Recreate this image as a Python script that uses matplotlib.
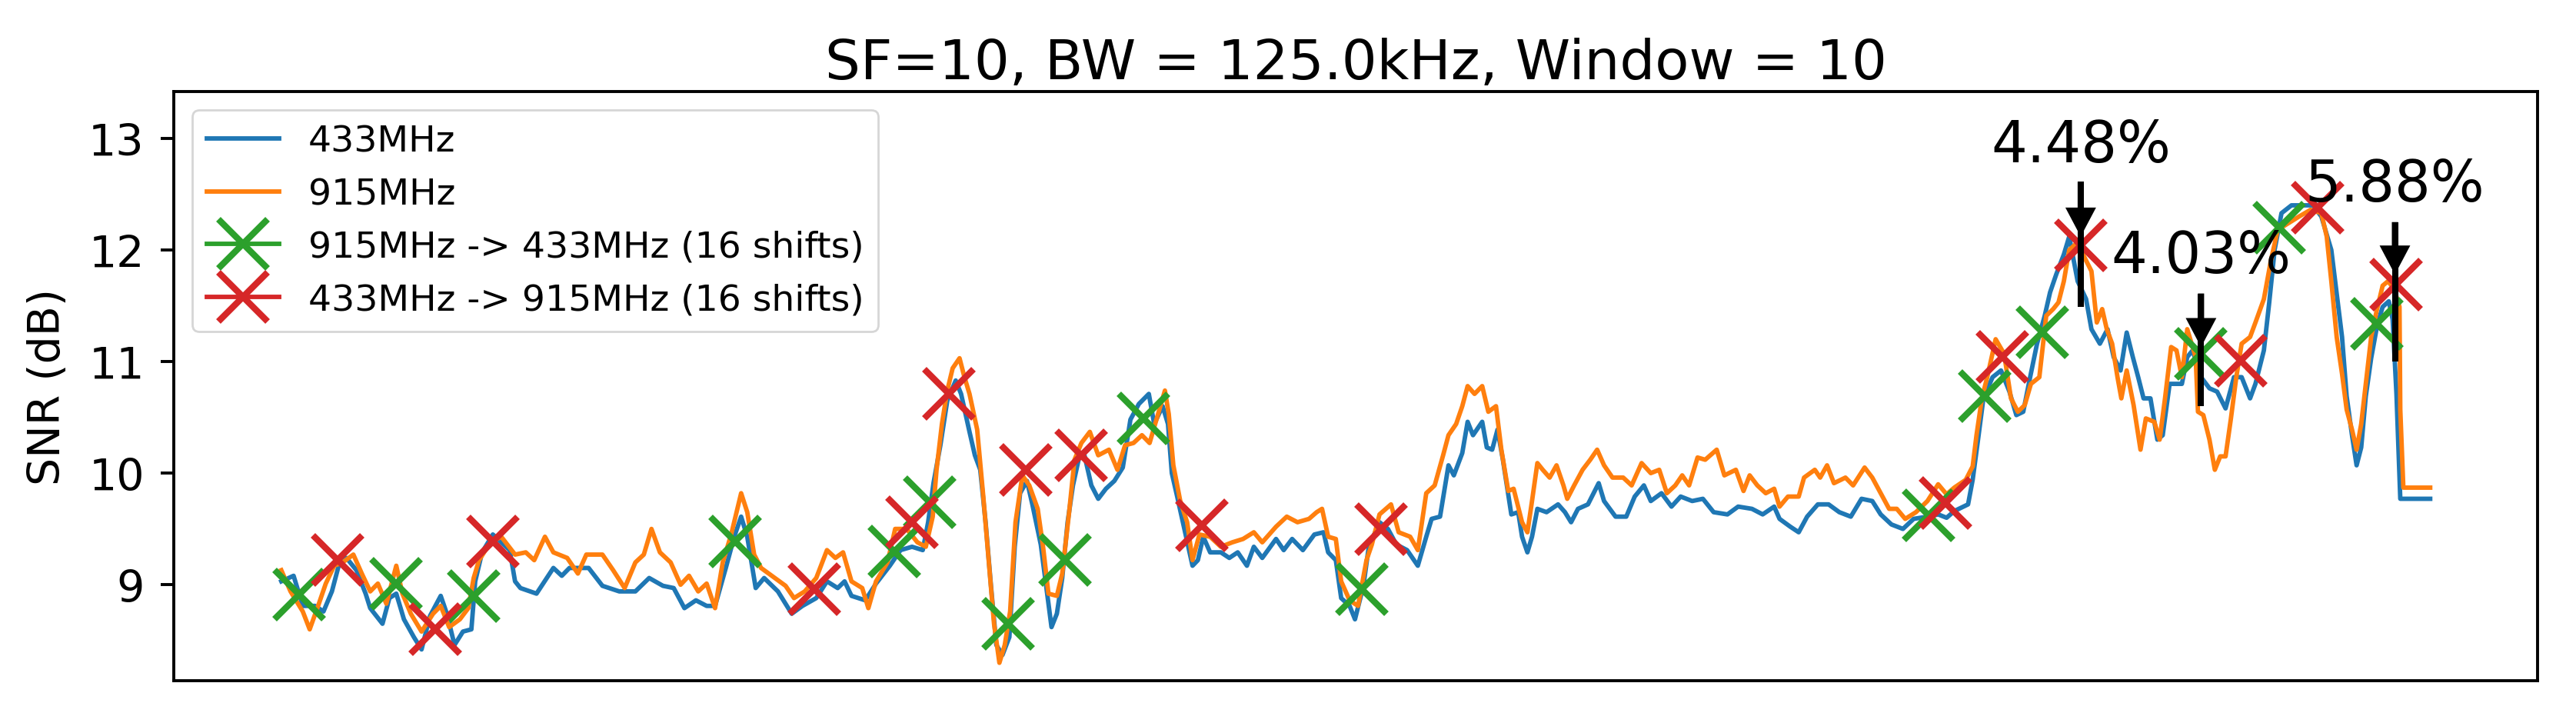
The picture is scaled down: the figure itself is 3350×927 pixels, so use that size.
import numpy as np
import matplotlib
matplotlib.use('Agg')
import matplotlib.pyplot as plt
from matplotlib.lines import Line2D

# SNR traces (sample index, dB)
snr433_x = [0, 16, 28, 44, 55, 66, 76, 85, 98, 110, 116, 132, 141, 150, 160, 173, 183, 194, 208, 216,
            226, 237, 248, 253, 262, 276, 298, 305, 312, 333, 355, 366, 376, 401, 419, 441, 462, 480, 498, 512,
            526, 541, 555, 566, 580, 591, 600, 608, 619, 630, 648, 666, 680, 698, 712, 726, 735, 744, 762, 776,
            794, 808, 823, 837, 844, 851, 860, 869, 880, 887, 898, 905, 912, 919, 926, 933, 941, 950, 957, 964,
            973, 980, 991, 998, 1005, 1012, 1019, 1026, 1033, 1041, 1048, 1057, 1066, 1076, 1087, 1098, 1108, 1119, 1132, 1139,
            1150, 1157, 1162, 1169, 1180, 1189, 1196, 1203, 1212, 1226, 1237, 1248, 1260, 1269, 1280, 1298, 1308, 1319, 1333, 1348,
            1360, 1366, 1376, 1383, 1394, 1401, 1412, 1419, 1433, 1444, 1455, 1469, 1483, 1494, 1501, 1512, 1523, 1530, 1541, 1548,
            1555, 1567, 1573, 1580, 1587, 1594, 1605, 1614, 1619, 1626, 1632, 1639, 1651, 1666, 1675, 1683, 1692, 1705, 1719, 1726,
            1741, 1755, 1766, 1778, 1787, 1801, 1814, 1826, 1841, 1855, 1869, 1887, 1901, 1919, 1933, 1948, 1955, 1969, 1980, 1991,
            2005, 2019, 2033, 2048, 2062, 2076, 2087, 2101, 2116, 2130, 2148, 2162, 2173, 2183, 2201, 2207, 2214, 2221, 2233, 2244,
            2255, 2264, 2273, 2282, 2291, 2301, 2308, 2316, 2326, 2333, 2339, 2344, 2355, 2362, 2373, 2383, 2391, 2400, 2408, 2416,
            2423, 2430, 2439, 2448, 2455, 2464, 2473, 2480, 2487, 2494, 2505, 2516, 2526, 2537, 2548, 2558, 2569, 2576, 2587, 2594,
            2601, 2610, 2623, 2637, 2651, 2662, 2675, 2682, 2689, 2695, 2702, 2708, 2714, 2720, 2727, 2735, 2742, 2750, 2755, 2760,
            2765, 2804]
snr433_y = [9.03, 9.08, 8.81, 8.81, 8.76, 8.94, 9.20, 9.24, 9.13, 8.92, 8.79, 8.65, 8.88, 8.92, 8.69, 8.53, 8.42, 8.72, 8.90, 8.74,
            8.46, 8.58, 8.60, 9.03, 9.29, 9.45, 9.31, 9.03, 8.97, 8.92, 9.15, 9.08, 9.15, 9.15, 8.99, 8.94, 8.94, 9.06, 8.99, 8.97,
            8.79, 8.86, 8.81, 8.81, 9.15, 9.43, 9.61, 9.43, 8.97, 9.06, 8.94, 8.74, 8.81, 8.88, 9.03, 8.97, 9.03, 8.90, 8.86, 9.01,
            9.17, 9.31, 9.34, 9.31, 9.56, 9.91, 10.25, 10.65, 10.83, 10.71, 10.37, 10.16, 10.03, 9.56, 8.99, 8.46, 8.37, 8.53, 9.34, 9.82,
            9.93, 9.72, 9.36, 8.99, 8.62, 8.74, 9.06, 9.56, 9.89, 10.14, 10.16, 9.89, 9.77, 9.86, 9.93, 10.05, 10.48, 10.62, 10.71, 10.44,
            10.60, 10.44, 10.00, 9.79, 9.45, 9.17, 9.22, 9.43, 9.29, 9.29, 9.24, 9.29, 9.17, 9.34, 9.24, 9.41, 9.31, 9.41, 9.31, 9.45,
            9.47, 9.29, 9.22, 8.88, 8.81, 8.69, 8.99, 9.34, 9.56, 9.50, 9.36, 9.31, 9.17, 9.43, 9.59, 9.61, 10.07, 9.98, 10.18, 10.46,
            10.34, 10.46, 10.23, 10.21, 10.39, 10.12, 9.63, 9.65, 9.43, 9.29, 9.43, 9.68, 9.65, 9.72, 9.65, 9.56, 9.68, 9.72, 9.91, 9.75,
            9.61, 9.61, 9.79, 9.89, 9.75, 9.82, 9.70, 9.79, 9.75, 9.77, 9.65, 9.63, 9.70, 9.68, 9.63, 9.70, 9.59, 9.52, 9.47, 9.61,
            9.72, 9.72, 9.65, 9.61, 9.77, 9.75, 9.63, 9.54, 9.50, 9.59, 9.61, 9.63, 9.60, 9.66, 9.72, 9.94, 10.30, 10.67, 10.86, 10.92,
            10.73, 10.52, 10.55, 10.86, 11.16, 11.41, 11.62, 11.78, 11.96, 12.12, 11.90, 11.72, 11.56, 11.29, 11.16, 11.29, 11.04, 10.92, 11.26, 11.04,
            10.86, 10.67, 10.67, 10.30, 10.34, 10.80, 10.80, 10.80, 11.04, 11.10, 10.86, 10.76, 10.73, 10.58, 10.86, 10.86, 10.67, 10.80, 11.10, 11.53,
            12.00, 12.33, 12.40, 12.40, 12.40, 12.30, 12.00, 11.61, 11.22, 10.69, 10.34, 10.07, 10.23, 10.69, 11.03, 11.33, 11.49, 11.54, 11.38, 10.71,
            9.77, 9.77]

snr915_x = [0, 12, 28, 37, 48, 58, 69, 80, 94, 105, 116, 126, 137, 150, 158, 169, 183, 198, 208, 219,
            233, 244, 251, 258, 273, 287, 305, 319, 330, 344, 355, 373, 387, 398, 419, 433, 448, 462, 473, 483,
            494, 508, 521, 532, 544, 555, 566, 576, 587, 600, 608, 617, 626, 644, 658, 669, 683, 698, 712, 723,
            733, 744, 758, 766, 776, 791, 801, 816, 830, 841, 850, 855, 862, 869, 876, 885, 891, 898, 908, 916,
            923, 930, 937, 944, 951, 958, 967, 976, 987, 994, 1001, 1012, 1019, 1028, 1035, 1044, 1055, 1066, 1080, 1091,
            1101, 1112, 1123, 1133, 1144, 1153, 1158, 1164, 1173, 1182, 1189, 1198, 1212, 1226, 1241, 1255, 1269, 1280, 1298, 1312,
            1326, 1341, 1351, 1358, 1366, 1376, 1383, 1394, 1405, 1416, 1423, 1433, 1448, 1458, 1473, 1483, 1494, 1505, 1516, 1523,
            1533, 1541, 1548, 1557, 1567, 1575, 1585, 1592, 1601, 1608, 1619, 1626, 1632, 1639, 1646, 1655, 1664, 1673, 1678, 1687,
            1698, 1708, 1717, 1726, 1737, 1751, 1762, 1775, 1787, 1798, 1808, 1819, 1828, 1837, 1848, 1858, 1873, 1883, 1898, 1908,
            1916, 1926, 1937, 1948, 1955, 1966, 1980, 1987, 2001, 2008, 2017, 2026, 2041, 2051, 2066, 2076, 2087, 2098, 2108, 2119,
            2133, 2148, 2162, 2173, 2183, 2198, 2207, 2212, 2219, 2226, 2237, 2248, 2257, 2266, 2275, 2283, 2294, 2303, 2312, 2319,
            2326, 2333, 2341, 2351, 2362, 2369, 2376, 2382, 2389, 2396, 2401, 2408, 2417, 2426, 2433, 2444, 2451, 2458, 2466, 2473,
            2480, 2487, 2498, 2501, 2508, 2516, 2523, 2530, 2537, 2544, 2551, 2558, 2569, 2576, 2587, 2596, 2605, 2619, 2633, 2648,
            2662, 2669, 2675, 2682, 2689, 2695, 2702, 2708, 2714, 2720, 2727, 2734, 2742, 2749, 2757, 2764, 2765, 2769, 2804]
snr915_y = [9.13, 8.94, 8.76, 8.60, 8.81, 9.01, 9.17, 9.20, 9.27, 9.10, 8.94, 9.01, 8.83, 9.17, 8.92, 8.74, 8.58, 8.74, 8.81, 8.62,
            8.69, 8.79, 9.06, 9.22, 9.38, 9.43, 9.27, 9.29, 9.22, 9.43, 9.29, 9.24, 9.10, 9.27, 9.27, 9.13, 8.97, 9.20, 9.27, 9.50,
            9.29, 9.20, 9.00, 9.08, 8.94, 9.01, 8.79, 9.20, 9.45, 9.82, 9.65, 9.27, 9.15, 9.06, 8.99, 8.88, 8.94, 9.06, 9.31, 9.24,
            9.29, 9.03, 8.97, 8.79, 9.03, 9.20, 9.50, 9.50, 9.38, 9.34, 9.61, 10.03, 10.44, 10.74, 10.94, 11.03, 10.87, 10.71, 10.39, 9.79,
            9.22, 8.65, 8.30, 8.46, 8.76, 9.56, 9.98, 9.89, 9.68, 9.34, 8.92, 8.90, 9.10, 9.65, 10.12, 10.27, 10.37, 10.16, 10.21, 10.03,
            10.25, 10.27, 10.34, 10.27, 10.53, 10.74, 10.53, 10.07, 9.75, 9.56, 9.22, 9.45, 9.43, 9.34, 9.38, 9.41, 9.47, 9.38, 9.52, 9.61,
            9.56, 9.59, 9.65, 9.68, 9.43, 9.41, 9.03, 8.86, 8.81, 9.22, 9.36, 9.63, 9.72, 9.47, 9.43, 9.31, 9.82, 9.89, 10.16, 10.34,
            10.44, 10.60, 10.78, 10.71, 10.78, 10.55, 10.60, 10.21, 9.84, 9.86, 9.56, 9.47, 9.75, 10.09, 10.03, 9.96, 10.07, 9.89, 9.77, 9.89,
            10.03, 10.12, 10.21, 10.07, 9.96, 9.96, 9.89, 10.09, 10.00, 10.03, 9.82, 9.89, 9.98, 9.89, 10.14, 10.12, 10.21, 9.98, 10.03, 9.84,
            9.98, 9.89, 9.82, 9.86, 9.70, 9.79, 9.79, 9.96, 10.03, 9.96, 10.07, 9.91, 9.96, 9.89, 10.05, 9.96, 9.82, 9.68, 9.68, 9.59,
            9.65, 9.75, 9.90, 9.81, 9.87, 9.94, 10.06, 10.34, 10.67, 10.86, 11.20, 11.07, 10.67, 10.55, 10.61, 10.80, 10.86, 11.41, 11.47, 11.53,
            11.72, 12.00, 12.05, 11.96, 11.81, 11.35, 11.47, 11.29, 11.16, 10.86, 10.67, 10.92, 10.61, 10.21, 10.49, 10.46, 10.30, 10.67, 11.13, 11.10,
            10.86, 11.29, 11.04, 10.55, 10.52, 10.30, 10.03, 10.15, 10.15, 10.49, 10.86, 11.16, 11.22, 11.35, 11.56, 11.90, 12.18, 12.24, 12.30, 12.36,
            12.33, 12.12, 11.72, 11.22, 10.89, 10.57, 10.39, 10.21, 10.44, 10.80, 11.22, 11.45, 11.68, 11.72, 11.65, 11.49, 10.57, 9.87, 9.87]

# shift points
shift_915_433_x = [23, 150, 251, 592, 800, 846, 948, 1023, 1125, 1410, 2149, 2223, 2298, 2505, 2607, 2734]
shift_915_433_y = [8.91, 9.01, 8.90, 9.39, 9.30, 9.74, 8.65, 9.22, 10.49, 8.96, 9.62, 10.69, 11.26, 11.07, 12.20, 11.34]
shift_433_915_x = [73, 201, 276, 696, 823, 871, 971, 1044, 1201, 1435, 2172, 2246, 2348, 2557, 2657, 2759]
shift_433_915_y = [9.22, 8.60, 9.39, 8.96, 9.56, 10.71, 10.03, 10.16, 9.53, 9.50, 9.73, 11.04, 12.04, 11.01, 12.38, 11.69]

# annotated differences
ann_labels = ['4.48%', '4.03%', '5.88%']
ann_x = [2348, 2505, 2758]
ann_top = [12.61, 11.61, 12.25]
ann_tip = [12.12, 11.13, 11.78]
ann_bottom = [11.49, 10.60, 11.00]
ann_text_y = [12.79, 11.80, 12.44]

fig = plt.figure(figsize=(16.75, 4.64), dpi=200)
ax = fig.add_axes([0.0675, 0.0453, 0.9176, 0.8254])

ax.plot(snr433_x, snr433_y, color='C0', lw=2.1, label='433MHz')
ax.plot(snr915_x, snr915_y, color='C1', lw=2.1, label='915MHz')
ax.plot(shift_915_433_x, shift_915_433_y, ls='none', marker='x', ms=23, mew=3, color='C2')
ax.plot(shift_433_915_x, shift_433_915_y, ls='none', marker='x', ms=23, mew=3, color='C3')

for lab, x, top, tip, bot, ty in zip(ann_labels, ann_x, ann_top, ann_tip, ann_bottom, ann_text_y):
    ax.vlines(x, bot, top, color='k', lw=2.9, zorder=5)
    ax.arrow(x, top, 0, tip - top, width=8, head_width=40, head_length=0.26,
             length_includes_head=True, fc='k', ec='none', zorder=5)
    ax.text(x, ty, lab, ha='center', va='baseline', fontsize=26.5)

ax.set_ylim(8.14, 13.42)
ax.set_xticks([])
ax.set_yticks([9, 10, 11, 12, 13])
ax.tick_params(axis='y', labelsize=20.5, length=6.3, width=1.4, pad=7.5)
for sp in ax.spines.values():
    sp.set_linewidth(1.4)
ax.set_ylabel('SNR (dB)', fontsize=20.5, labelpad=9)
ax.set_title('SF=10, BW = 125.0kHz, Window = 10', fontsize=26)

handles = [Line2D([], [], color='C0', lw=2.1),
           Line2D([], [], color='C1', lw=2.1),
           Line2D([], [], color='C2', lw=2.1, marker='x', ms=23, mew=3),
           Line2D([], [], color='C3', lw=2.1, marker='x', ms=23, mew=3)]
labels = ['433MHz', '915MHz', '915MHz -> 433MHz (16 shifts)', '433MHz -> 915MHz (16 shifts)']
ax.legend(handles, labels, loc='upper left', fontsize=17)

fig.savefig('out.png', dpi=200)
